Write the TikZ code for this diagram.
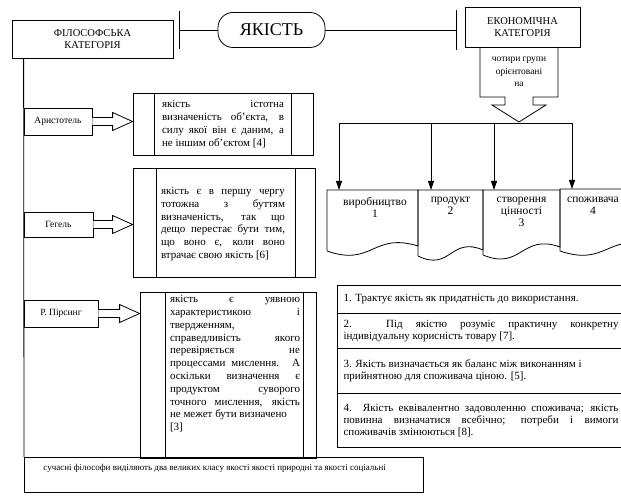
\documentclass[tikz,border=0pt]{standalone}
\usepackage{fontspec}
\setmainfont{Liberation Serif}
\usetikzlibrary{arrows.meta,calc}
\newcommand\fatarrow[2]{\draw[fill=white] let \p1=(#1.east), \p2=(#2.west) in
  (\x1,\y1+4pt) -- (\x2-20pt,\y1+4pt) -- (\x2-20pt,\y1+9pt) -- (\x2,\y1) --
  (\x2-20pt,\y1-9pt) -- (\x2-20pt,\y1-4pt) -- (\x1,\y1-4pt);}
\newcommand\docshape[5]{\draw (#1,#4) -- (#1,#3) -- (#2,#3) -- (#2,#5)
  .. controls ({#1+0.5*(#2-#1)},{#5-14}) and ({#1+0.5*(#2-#1)},{#4+16}) .. (#1,#4);}
\newcommand\innerlines[3]{\draw ([xshift=#2pt]#1.north west) -- ([xshift=#2pt]#1.south west);
  \draw ([xshift=-#3pt]#1.north east) -- ([xshift=-#3pt]#1.south east);}
\begin{document}
\begin{tikzpicture}[x=1pt,y=-1pt,line width=0.8pt,
  box/.style={draw,rectangle,inner sep=0pt,align=center},
  cat/.style={box,font=\fontsize{10.5}{12}\selectfont},
  namebox/.style={box,font=\fontsize{9.5}{11}\selectfont},
  body/.style={inner sep=0pt,align=justify,font=\fontsize{11}{12.8}\selectfont},
  row/.style={draw,line width=1pt,anchor=north west,text width=275pt,inner xsep=6pt,inner ysep=0pt,
    align=justify,font=\fontsize{11}{12}\selectfont},
  doctext/.style={inner sep=0pt,anchor=north,align=center,font=\fontsize{11.5}{12}\selectfont},
  drop/.style={-{Triangle[width=6pt,length=9pt]}}]
\useasboundingbox (0,0) rectangle (621,502);
\clip (0,0) rectangle (621,502);

% top row
\node[cat,minimum width=161pt,minimum height=38pt] (phil) at (92.5,39) {ФІЛОСОФСЬКА\\КАТЕГОРІЯ};
\node[box,rounded corners=15pt,minimum width=107pt,minimum height=35pt,font=\fontsize{18}{20}\selectfont] (yak) at (271.5,30) {ЯКІСТЬ};
\node[cat,minimum width=115pt,minimum height=40pt] (econ) at (522.5,27) {ЕКОНОМІЧНА\\КАТЕГОРІЯ};
\coordinate (bL) at (179,30);
\coordinate (bR) at (457,30);
\draw[-{Bar[width=38pt]}] (yak.west) -- (bL);
\draw[-{Bar[width=40pt]}] (yak.east) -- (bR);

% economic branch
\draw (480,47) -- (480,97) -- (505,97) -- (505,105) -- (492,105) -- (519,122) -- (546,105)
  -- (533,105) -- (533,97) -- (558,97) -- (558,47);
\node[inner sep=0pt,align=center,font=\fontsize{9.5}{12.5}\selectfont] (grp) at (519,72) {чотири групи\\орієнтовані\\на};
\coordinate (bus) at (519,123);
\coordinate (t1) at (339,190);
\coordinate (t2) at (431,190);
\coordinate (t3) at (494,190);
\coordinate (t4) at (572,189);
\draw (t1 |- bus) -- (t4 |- bus);
\draw[drop] (t1 |- bus) -- (t1);
\draw[drop] (t2 |- bus) -- (t2);
\draw[drop] (t3 |- bus) -- (t3);
\draw[drop] (t4 |- bus) -- (t4);

\docshape{327}{418}{190}{251}{246}
\docshape{418}{483}{190}{256}{250}
\docshape{483}{560}{190}{255}{247}
\docshape{560}{654}{189}{251}{246}
\node[doctext] (d1) at (375,197) {виробництво\\1};
\node[doctext] (d2) at (450.5,197) {продукт\\2};
\node[doctext] (d3) at (521.5,197) {створення\\цінності\\3};
\node[doctext] (d4) at (593,197) {споживача\\4};

% philosophical branch
\node[draw,inner sep=0pt,anchor=north west,minimum width=399pt,minimum height=35pt] (bot) at (24,457) {};
\draw ([xshift=12pt]phil.south west) -- (bot.north west);
\node[inner sep=0pt,anchor=base west,font=\fontsize{9}{10}\selectfont] (botT) at (43,470)
  {сучасні філософи виділяють два великих класу якості якості природні та якості соціальні};

\node[namebox,minimum width=68pt,minimum height=27pt] (ar) at (58,121.5) {Аристотель};
\node[namebox,minimum width=69pt,minimum height=25pt] (ge) at (58.5,224.5) {Гегель};
\node[namebox,minimum width=74pt,minimum height=27pt] (pi) at (61,313.5) {Р. Пірсинг};

\node[draw,inner sep=0pt,minimum width=180pt,minimum height=62pt] (arB) at (223,124) {};
\node[draw,inner sep=0pt,minimum width=182pt,minimum height=109pt] (geB) at (224,222.5) {};
\node[draw,inner sep=0pt,minimum width=176pt,minimum height=166pt] (piB) at (228,375) {};
\innerlines{arB}{22}{22}
\innerlines{geB}{24}{20}
\innerlines{piB}{26}{13}

\fatarrow{ar}{arB}
\fatarrow{ge}{geB}
\fatarrow{pi}{piB}

\node[body,text width=122pt] (arX) at (223,124) {якість істотна\linebreak визначеність об'єкта, в\linebreak силу якої він є даним, а\linebreak не іншим об'єктом [4]};
\node[body,text width=124pt] (geX) at (223,224) {якість є в першу чергу\linebreak тотожна з буттям\linebreak визначеність, так що\linebreak дещо перестає бути тим,\linebreak що воно є, коли воно\linebreak втрачає свою якість [6]};
\node[body,text width=130pt,anchor=north] (piX) at (235,295) {якість є уявною\linebreak характеристикою і\linebreak твердженням,\newline справедливість якого\linebreak перевіряється не\linebreak процессами мислення. А\linebreak оскільки визначення є\linebreak продуктом суворого\linebreak точного мислення, якість\linebreak не межет бути визначено\newline\mbox{[3]}};

% right list
\node[row,minimum height=28pt] (r1) at (337,285) {1. Трактує якість як придатність до використання.};
\node[row,minimum height=35pt] (r2) at (337,313) {2. Під якістю розуміє практичну конкретну\linebreak індивідуальну корисність товару [7].};
\node[row,minimum height=45pt] (r3) at (337,348) {3. Якість визначається як баланс між виконанням і\newline прийнятною для споживача ціною. [5].};
\node[row,minimum height=54pt] (r4) at (337,393) {4. Якість еквівалентно задоволенню споживача; якість\linebreak повинна визначатися всебічно; потреби і вимоги\linebreak споживачів змінюються [8].};
\end{tikzpicture}
\end{document}
